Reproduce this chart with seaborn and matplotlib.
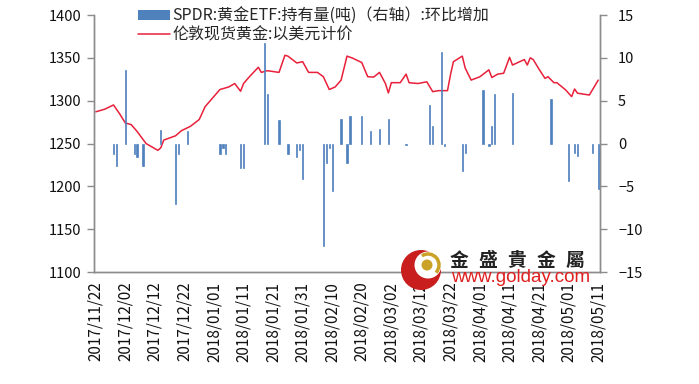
import matplotlib
matplotlib.use("Agg")
import matplotlib.pyplot as plt
import seaborn as sns
import pandas as pd
from matplotlib.patches import Patch, Ellipse, Arc
from matplotlib.lines import Line2D

# ---------------- data ----------------
tick_labels = ["2017/11/22", "2017/12/02", "2017/12/12", "2017/12/22",
               "2018/01/01", "2018/01/11", "2018/01/21", "2018/01/31",
               "2018/02/10", "2018/02/20", "2018/03/02", "2018/03/12",
               "2018/03/22", "2018/04/01", "2018/04/11", "2018/04/21",
               "2018/05/01", "2018/05/11"]
tick_days = list(range(0, 171, 10))

# London spot gold (USD), day offset from 2017/11/22
price_day = [0, 3, 6, 8, 10, 12, 14, 17, 19, 21, 22, 23, 27, 29, 32, 35, 37,
             40, 42, 45, 47, 49, 50, 52, 55, 56, 58, 62, 64, 65, 68, 70, 72,
             75, 77, 79, 81, 83, 85, 87, 90, 92, 94, 96, 98, 99, 100, 103,
             105, 106, 109, 112, 114, 116, 119, 120, 121, 124, 125, 127, 130,
             133, 134, 136, 138, 140, 141, 145, 146, 147, 148, 150, 152, 153,
             155, 156, 159, 161, 162, 163, 167, 170]
price = [1287, 1290, 1295, 1285, 1274, 1272, 1264, 1250, 1246, 1242, 1245,
         1254, 1259, 1265, 1270, 1278, 1293, 1305, 1313, 1316, 1320, 1311,
         1320, 1328, 1339, 1333, 1335, 1333, 1353, 1352, 1344, 1345.5, 1333,
         1333, 1328, 1313, 1316, 1324, 1352, 1349.5, 1344.5, 1328, 1327.5,
         1333, 1320, 1309, 1321, 1321, 1331, 1321, 1320, 1322, 1310.5,
         1311.7, 1311.7, 1330, 1345.5, 1352, 1338, 1324, 1328, 1336, 1327,
         1331, 1332, 1350.6, 1341.6, 1348, 1341.6, 1350, 1348, 1336.6, 1326,
         1328, 1321, 1321, 1312.5, 1304.7, 1313.6, 1308.7, 1306.6, 1324]

# SPDR gold ETF holdings change (tonnes), day offset from 2017/11/22
etf_day = [6, 7, 10, 13, 14, 16, 22, 27, 28, 31, 42, 43, 44, 49, 50, 57, 58,
           62, 65, 68, 69, 70, 77, 78, 79, 80, 83, 85, 86, 90, 93, 96, 99,
           105, 113, 114, 117, 118, 124, 125, 131, 133, 134, 135, 141, 154,
           160, 162, 163, 168, 170]
etf_change = [-1.2, -2.6, 8.55, -1.2, -1.55, -2.6, 1.63, -7.1, -1.2, 1.5,
              -1.2, -0.5, -1.2, -2.85, -2.85, 11.75, 5.8, 2.7, -1.2, -1.55,
              -0.8, -4.2, -12.0, -2.25, -0.5, -5.55, 2.9, -2.25, 3.25, 3.25,
              1.45, 1.7, 2.9, -0.2, 4.45, 2.1, 10.65, -0.3, -3.2, -1.1, 6.2,
              -0.3, 2.0, 5.8, 5.9, 5.25, -4.4, -1.1, -1.5, -1.1, -5.3]

legend_bar = "SPDR:黄金ETF:持有量(吨)（右轴）:环比增加"
legend_line = "伦敦现货黄金:以美元计价"
watermark_cn = ["金", "盛", "貴", "金", "屬"]
watermark_url = "www.golday.com"

# ---------------- style ----------------
sns.set_style("white")
plt.rcParams['font.family'] = ['Noto Sans CJK SC', 'DejaVu Sans']
bar_color = "#4F81BD"
line_color = "#E8203A"
spine_color = "#8C8C8C"

W, H = 699, 384
fig = plt.figure(figsize=(W / 100, H / 100), dpi=100)
ax = fig.add_axes([94 / W, 1 - 272 / H, (600 - 94) / W, (272 - 15) / H])
ax2 = ax.twinx()

price_df = pd.DataFrame({"day": price_day, "price": price})
etf_df = pd.DataFrame({"day": etf_day, "chg": etf_change})

sns.lineplot(data=price_df, x="day", y="price", ax=ax, color=line_color,
             linewidth=1.1, zorder=2)
sns.barplot(data=etf_df, x="day", y="chg", ax=ax2, native_scale=True,
            color=bar_color, saturation=1, width=0.45, errorbar=None,
            edgecolor=bar_color, linewidth=0.5, zorder=3)

ax.set_ylim(1100, 1400)
ax.set_yticks(range(1100, 1401, 50))
ax2.set_ylim(-15, 15)
ax2.set_yticks(range(-15, 16, 5))
ax.set_xlim(-0.6, 170.6)
ax.set_xticks(tick_days)
ax.set_xticklabels(tick_labels, rotation=90, fontsize=11)
ax2.xaxis.set_visible(False)

for a in (ax, ax2):
    a.set_xlabel("")
    a.set_ylabel("")
    for s in a.spines.values():
        s.set_color(spine_color)
        s.set_linewidth(1.0)
    a.spines["top"].set_visible(False)
    a.tick_params(axis="both", direction="out", length=5, width=1,
                  color=spine_color, labelsize=10.5, labelcolor="#111111")
ax.tick_params(axis="x", labelsize=11, pad=2)
ax.tick_params(axis="y", pad=4)
ax2.tick_params(axis="y", pad=8)

handles = [Patch(facecolor=bar_color, edgecolor="none"),
           Line2D([0], [0], color=line_color, linewidth=1.1)]
fig.legend(handles, [legend_bar, legend_line], loc="upper left",
           bbox_to_anchor=(0.188, 0.997), frameon=False, fontsize=11.5,
           handlelength=2.0, handleheight=0.6, labelspacing=0.12,
           handletextpad=0.15, borderaxespad=0)

# ---------------- watermark ----------------
def fx(px):
    return px / W


def fy(py):
    return 1 - py / H


fig.patches.append(Ellipse((fx(421), fy(270)), 40 / W, 40 / H,
                           transform=fig.transFigure, facecolor="#C81E1E",
                           edgecolor="none", zorder=5, figure=fig))
fig.patches.append(Ellipse((fx(428), fy(265)), 27 / W, 27 / H,
                           transform=fig.transFigure, facecolor="white",
                           edgecolor="none", zorder=6, figure=fig))
fig.patches.append(Arc((fx(428), fy(265)), 22 / W, 22 / H, theta1=-60,
                       theta2=110, transform=fig.transFigure,
                       color="#C9A227", linewidth=2.5, zorder=7, figure=fig))
fig.patches.append(Ellipse((fx(427), fy(265)), 11 / W, 11 / H,
                           transform=fig.transFigure, facecolor="#C9A227",
                           edgecolor="none", zorder=8, figure=fig))
for i, ch in enumerate(watermark_cn):
    fig.text(fx(450 + i * 28.8), fy(260), ch, fontsize=13.5,
             fontweight="bold", color="#222222", va="center", ha="left",
             family=['Noto Sans CJK TC', 'DejaVu Sans'], zorder=9)
fig.text(fx(451), fy(278), watermark_url, fontsize=13.5, color="#E02020",
         va="center", ha="left", family=['Liberation Sans', 'DejaVu Sans'],
         zorder=9)

fig.savefig("out.png", dpi=100)
